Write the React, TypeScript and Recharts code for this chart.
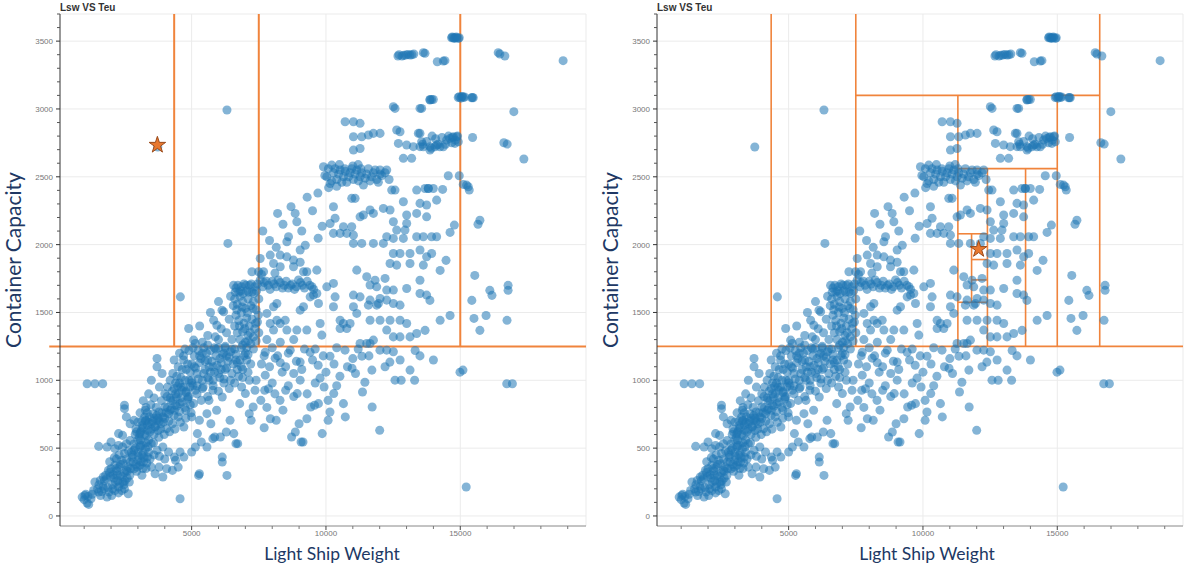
import React from 'react';
import {
  ScatterChart,
  Scatter,
  XAxis,
  YAxis,
  ZAxis,
  CartesianGrid,
  ReferenceLine,
  Symbols,
} from 'recharts';

type Pt = [number, number];
type Seg = [number, number, number, number];

// light ship weight (t) vs container capacity (teu)
const lowBand: Pt[] = [
  [925, 139], [1025, 151], [1110, 95], [1168, 85], [1253, 127], [1140, 144], [1000, 120], [1060, 160],
  [1350, 188], [1540, 176], [1610, 151], [1740, 200], [1850, 139], [1925, 176], [2025, 151], [2140, 188],
  [2280, 213], [2400, 188], [2500, 200], [2640, 164], [1300, 160], [1500, 200], [1700, 220],
  [1400, 250], [1600, 262], [1710, 287], [1825, 274], [1900, 336], [2000, 348], [2080, 306], [2140, 373],
  [2210, 331], [2310, 360], [2400, 410], [2455, 385], [2570, 336], [2640, 360], [2710, 397], [2785, 434],
  [2855, 348], [3000, 410], [3070, 373], [3140, 447], [3210, 397], [3355, 434], [3500, 360], [3640, 311],
  [3785, 360], [3930, 287], [4070, 348], [4285, 336], [4400, 410], [4500, 360], [4570, 127],
  [1800, 300], [1950, 320], [2100, 280], [2200, 350], [2350, 300], [2500, 320], [2600, 280], [2050, 230],
  [2250, 260], [2450, 250], [2700, 300], [2950, 330], [3150, 300], [3300, 350],
  [2200, 420], [2300, 450], [2500, 460], [2650, 480], [2800, 450], [2900, 500], [3000, 470], [3100, 520],
  [3200, 460], [3300, 540], [3400, 470], [3600, 450], [3800, 440], [4000, 420],
  [1540, 513], [1850, 508], [2000, 545], [2140, 496], [2280, 520], [2430, 508], [2570, 533], [2710, 557],
  [2855, 484], [3070, 508], [3280, 496], [3500, 533], [3715, 484], [3930, 508], [4140, 471], [4360, 434],
  [4570, 471], [4710, 434], [5000, 471], [5140, 508], [5360, 545], [5570, 508], [5790, 570],
  [5260, 299], [5290, 311], [6140, 397], [6140, 434], [6315, 299],
  [1550, 230], [1650, 180], [1750, 260], [1880, 210], [1980, 290], [2060, 200], [2160, 250], [2230, 300],
  [2330, 240], [2420, 290], [2520, 260], [2610, 330], [2730, 350], [2820, 400], [2920, 380], [3020, 440],
  [3120, 400], [3230, 430], [3330, 390], [3450, 420], [1950, 400], [2120, 430], [2350, 380], [2580, 420],
  [2760, 470], [2980, 360], [3180, 350], [2280, 170], [2480, 230], [2680, 250],
];

const coreBand: Pt[] = [
  [2280, 607], [2430, 594], [2500, 791], [2500, 816], [2570, 730], [2710, 680], [2855, 705], [2930, 643],
  [3000, 692], [3070, 607], [3170, 668], [3280, 705], [3355, 631], [3430, 730], [3500, 680], [3570, 754],
  [3640, 656], [3715, 705], [3785, 766], [3855, 680], [3930, 730], [4000, 803], [4070, 643], [4140, 754],
  [4215, 852], [4285, 680], [4360, 779], [4430, 877], [4500, 730], [4570, 828], [4640, 926], [4710, 656],
  [4785, 779], [4860, 877], [4930, 951], [5000, 730], [5070, 828], [5140, 926], [5215, 607], [5290, 705],
  [5360, 852], [5430, 951], [5570, 754], [5645, 852], [5715, 680], [5790, 926], [5860, 582], [5930, 779],
  [6070, 582], [6140, 877], [6290, 619], [6430, 705], [6570, 607], [6650, 533], [6715, 533], [6790, 828],
  [6860, 951], [7000, 902], [7145, 754], [7215, 705], [7290, 803], [7360, 926],
  [3100, 620], [3200, 650], [3300, 700], [3400, 690], [3150, 700], [3250, 730], [3350, 760], [3600, 720],
  [3700, 740], [3800, 700], [3900, 760], [4000, 720], [3500, 640], [3300, 590], [3000, 560], [2900, 600],
  [3100, 560], [3400, 560], [3600, 600], [3750, 630], [4100, 800], [4200, 780], [4300, 850], [4400, 820],
  [4500, 900], [4600, 870], [4700, 950], [4800, 910], [4900, 880], [5000, 980],
  [3200, 850], [3400, 900], [3600, 870], [3800, 950], [3500, 1000], [3900, 1050], [3300, 800],
  [2850, 530], [2950, 620], [3050, 580], [3150, 640], [3250, 600], [3350, 670], [3450, 620], [3550, 700],
  [3650, 660], [3750, 720], [3850, 640], [3950, 690], [4050, 760], [4150, 700], [4250, 790], [4350, 740],
  [4450, 810], [4550, 770], [4650, 840], [4750, 800], [4850, 860], [4950, 820], [3080, 760], [3280, 780],
  [3480, 820], [3680, 800], [3880, 850], [4080, 880], [4280, 920], [4480, 960], [3180, 520], [3380, 510],
  [3580, 540], [3780, 580], [3980, 600], [4180, 620], [4380, 640], [4580, 690], [4780, 720], [4980, 760],
];

const upperCore: Pt[] = [
  [4000, 900], [4100, 950], [4200, 1000], [4300, 1050], [4400, 980], [4500, 1100], [4600, 1020], [4700, 1150],
  [4800, 1080], [4900, 1000], [5000, 1120], [5100, 1180], [5200, 1050], [5300, 1130], [5400, 1200], [5500, 1080],
  [5600, 1150], [5700, 1220], [5800, 1100], [5900, 1180], [6000, 1240], [6100, 1130], [6200, 1200], [6300, 1090],
  [6400, 1170], [6600, 1230], [6800, 1150], [7000, 1200], [7200, 1120], [4200, 870], [4400, 900], [4600, 950],
  [4800, 920], [5000, 1000], [5200, 960], [5400, 1000], [5600, 1020], [5800, 1000], [6000, 1050], [6200, 1010],
  [6500, 1050], [6700, 1080], [6900, 1020], [7100, 1060], [7400, 1000], [3712, 1161], [3712, 1100], [4350, 1150],
  [4550, 1200], [4750, 1230], [5050, 1240], [5250, 1220], [5450, 1240], [5650, 1100], [5850, 1240], [6050, 1160],
  [6250, 1240], [6450, 1210], [6650, 1150], [6850, 1240], [7050, 1150], [7300, 1230],
  [4350, 940], [4450, 1030], [4550, 980], [4650, 1080], [4750, 1000], [4850, 1120], [4950, 1060], [5050, 960],
  [5150, 1090], [5250, 1010], [5350, 1160], [5450, 1050], [5550, 1200], [5650, 1000], [5750, 1140], [5850, 1060],
  [5950, 1110], [6050, 1020], [6150, 1190], [6250, 1080], [6350, 1140], [6450, 1000], [6550, 1120], [6650, 1190],
  [6750, 1030], [6850, 1100], [6950, 1180], [7050, 1240], [7150, 1000], [4700, 1180], [4900, 1220], [5100, 1100],
  [5300, 1180], [5500, 1140], [5700, 1060], [5900, 1230], [6100, 1080], [6300, 1180], [6500, 1230], [6700, 1130],
  [6900, 1080], [7100, 1190], [5200, 900], [5400, 940], [5600, 880], [5800, 960], [6000, 920], [6200, 980],
  [6400, 940], [6600, 980],
];

const lowerRight: Pt[] = [
  [7575, 852], [7720, 926], [7860, 938], [7930, 717], [8150, 705], [8290, 852], [8500, 926], [8720, 582],
  [8860, 619], [8930, 902], [9075, 545], [9145, 545], [9000, 680], [9290, 717], [9430, 803], [9575, 816],
  [9720, 828], [9860, 607], [10080, 852], [10150, 766], [10080, 705], [9930, 951], [10290, 902], [10650, 828],
  [10720, 730], [11360, 914], [11720, 803], [12000, 631], [12800, 1000], [13300, 1000],
  [7740, 1207], [8110, 1163], [8670, 1222], [9040, 1134], [9410, 1207], [9710, 1111], [10150, 1178], [10710, 1222],
  [10970, 1089], [11340, 1178], [11710, 1075], [12010, 1222], [12380, 1134], [7740, 1038], [8370, 1060], [9040, 1001],
  [9780, 1016], [10520, 1030], [11450, 986], [14990, 1060], [15100, 1075], [12760, 1150], [13130, 1075], [12570, 1001],
  [13320, 1220], [7600, 1120], [7900, 1100], [8200, 1180], [8500, 1100], [8800, 1050], [9200, 1230], [9500, 1150],
  [10000, 1060], [10300, 1120], [11000, 1160], [12262, 1222], [12509, 1210], [13500, 1180], [14000, 1150],
  [8000, 980], [8600, 960], [9300, 900], [7800, 800], [8400, 780],
  [7700, 1180], [8000, 1240], [8300, 1130], [8600, 1200], [8900, 1140], [9100, 1080], [9600, 1230], [9900, 1180],
  [10400, 1240], [10800, 1100], [11200, 1230], [11600, 1180], [12200, 1100], [8800, 880], [9600, 980], [10400, 960],
  [11100, 1050], [7700, 650], [8100, 900],
];

const midBlock: Pt[] = [
  [6560, 1700], [6650, 1680], [6750, 1650], [6850, 1690], [6950, 1710], [7050, 1660], [7150, 1700], [7250, 1650],
  [7350, 1690], [7450, 1710], [6600, 1600], [6700, 1560], [6800, 1620], [6900, 1580], [7000, 1530], [7100, 1600],
  [7200, 1550], [7300, 1580], [7400, 1520], [6650, 1480], [6750, 1440], [6850, 1500], [6950, 1420], [7050, 1460],
  [7150, 1400], [7250, 1450], [7350, 1380], [7450, 1430], [6700, 1350], [6800, 1300], [6900, 1360], [7000, 1280],
  [7100, 1330], [7200, 1270], [7300, 1320], [7400, 1290], [7500, 1350], [6600, 1400], [6550, 1550], [7500, 1600],
  [6450, 1620], [6500, 1300], [4890, 1382], [5075, 1296], [5137, 1271], [5820, 1443], [5940, 1406], [5880, 1320],
  [6190, 1505], [6130, 1517], [5400, 1280], [5600, 1330], [6000, 1300], [6100, 1380], [6300, 1350], [6400, 1450],
  [5300, 1400], [5700, 1500], [6000, 1580], [6250, 1250], [5600, 1260],
  [6620, 1650], [6720, 1700], [6820, 1660], [6920, 1640], [7020, 1700], [7120, 1650], [7220, 1710], [7320, 1640],
  [7420, 1660], [6680, 1520], [6880, 1540], [7080, 1500], [7280, 1530], [7480, 1480], [6780, 1400], [6980, 1380],
  [7180, 1350], [7380, 1420], [6900, 1260], [7100, 1290],
  [7244, 1800], [7491, 1800], [7677, 1800], [7553, 1898], [7925, 1923], [8297, 1923], [8545, 1910], [8792, 1886],
  [8049, 1861], [8297, 1837], [8792, 1837], [9164, 1800], [9288, 1800], [9660, 1812], [8545, 2021], [8607, 2058],
  [8916, 2169], [8854, 2230], [9040, 1960], [7553, 1740], [7700, 1720], [7850, 1700], [8000, 1730], [8150, 1690],
  [8300, 1720], [8450, 1700], [8600, 1680], [8750, 1710], [8900, 1690], [9050, 1720], [9200, 1680], [9400, 1700],
  [9540, 1670], [7650, 1690], [7780, 1730], [7920, 1670], [8070, 1710], [8220, 1740], [8380, 1680], [8520, 1730],
  [8680, 1700], [8830, 1670], [8980, 1740], [9120, 1700], [9300, 1730], [9480, 1690], [7600, 1780], [8100, 1790],
  [7650, 2100], [7900, 2030], [8150, 1980], [8400, 2150], [8700, 2280], [9100, 2100], [9500, 2250], [9300, 2350],
  [8200, 2230], [9700, 2380],
  [9412, 1615], [9536, 1628], [9164, 1542], [9040, 1517], [8173, 1566], [8049, 1542], [8173, 1443],
  [8297, 1419], [8483, 1443], [7801, 1493], [7925, 1419], [8049, 1370], [8545, 1370], [8916, 1370], [9288, 1370],
  [9660, 1640], [9722, 1566], [9784, 1419], [9846, 1333], [10031, 1689], [10279, 1714], [10341, 1615],
  [9230, 1995], [9710, 2047], [9860, 2135], [9040, 1870], [10340, 2194], [7800, 1300], [8300, 1280], [8800, 1300],
];

const upperBlock: Pt[] = [
  [10279, 2279], [10155, 2156], [10279, 2083], [10527, 2083], [10775, 2083], [11023, 2070], [10651, 2132], [10960, 2132],
  [11023, 2009], [11333, 2009], [9907, 2574], [10031, 2500], [10155, 2450], [10279, 2530], [10403, 2480], [10527, 2550],
  [10651, 2500], [10775, 2460], [10899, 2530], [11023, 2480], [11147, 2550], [11271, 2500], [11395, 2440], [11519, 2520],
  [11643, 2470], [11767, 2530], [11891, 2480], [12015, 2520], [10100, 2420], [10400, 2430], [10700, 2560], [11000, 2580],
  [11300, 2560], [12200, 2530], [12350, 2480], [10217, 2586],
  [9960, 2510], [10090, 2560], [10210, 2470], [10340, 2560], [10470, 2520], [10590, 2460], [10720, 2540], [10840, 2500],
  [10960, 2560], [11080, 2520], [11210, 2470], [11330, 2530], [11460, 2490], [11580, 2560], [11700, 2500], [11830, 2550],
  [11950, 2460], [12080, 2510], [10500, 2590], [11200, 2590],
  [10960, 2341], [11085, 2341], [11270, 2205], [11394, 2218],
  [11642, 2255], [11766, 2230], [10713, 2906], [11023, 2906], [11270, 2894], [11023, 2795], [11333, 2795], [11580, 2808],
  [11766, 2820], [12014, 2820], [11023, 2697], [11270, 2709], [12509, 3017], [12571, 3004], [13501, 3004], [13872, 3066],
  [12695, 2746], [13005, 2734], [13253, 2722], [13501, 2722], [13872, 2722], [14120, 2734], [12633, 2845], [12757, 2832],
  [13439, 2820], [12881, 2636], [13190, 2636], [12014, 2550], [12262, 2550], [12447, 2402], [12571, 2402], [13377, 2402],
  [13810, 2414], [13996, 2414], [12881, 2316], [13501, 2304], [13748, 2292], [14120, 2328], [12138, 2267], [12386, 2255],
  [13005, 2218], [13377, 2230], [13748, 2205], [12509, 2169], [13005, 2156], [12262, 2058], [12509, 2046], [12881, 2046],
  [13377, 2058], [13625, 2058], [13934, 2058], [14120, 2058], [12633, 2107], [12943, 2107], [11766, 2009], [12138, 2009],
  [13501, 1960], [13129, 1935], [12509, 1935], [12757, 1935], [13748, 1911], [13934, 1935], [12386, 1861], [12633, 1849],
  [13129, 1861], [13625, 1849], [11147, 1812], [11518, 1763], [11828, 1738], [12200, 1751], [11642, 1702], [11890, 1689],
  [12262, 1665], [12509, 1665], [13005, 1677], [13501, 1640], [13748, 1628], [11023, 1628], [11270, 1615], [11642, 1591],
  [12014, 1603], [11952, 1566], [12509, 1566], [12757, 1554], [11023, 1542], [11580, 1554], [11890, 1554], [12262, 1591],
  [10279, 1542], [10527, 1443], [10651, 1419], [10775, 1382], [10527, 1382], [10899, 1419], [11147, 1493], [11642, 1443],
  [12014, 1443], [12386, 1443], [12757, 1443], [13005, 1419], [13377, 1345], [12262, 1370], [12509, 1320], [12757, 1320],
  [13129, 1320], [11270, 1271], [11518, 1271], [11642, 1271], [11766, 1296], [12680, 3390], [12830, 3390], [12980, 3398],
  [13130, 3398], [13270, 3405], [12720, 3400], [12900, 3395], [13050, 3402], [13200, 3400],
];

const rightEdge: Pt[] = [
  [14677, 3525], [14739, 3525], [14801, 3525], [14863, 3525], [14962, 3525], [14700, 3530], [14780, 3520], [14850, 3530],
  [14930, 3520], [13624, 3415], [13686, 3410], [14144, 3348],
  [14367, 3353], [14429, 3356], [16412, 3415], [16474, 3405], [16659, 3390], [18828, 3356], [13872, 3070], [13934, 3070],
  [13996, 3070], [14925, 3085], [15049, 3090], [15111, 3085], [15420, 3083], [15482, 3083], [14960, 3090], [15020, 3080],
  [15080, 3092], [15160, 3088], [15450, 3085], [13562, 3004], [16994, 2980],
  [13500, 2820], [13562, 2758], [13624, 2721], [13872, 2697], [14058, 2721], [14243, 2721], [14367, 2721], [14491, 2771],
  [14615, 2783], [14739, 2795], [14863, 2795], [14925, 2758], [14801, 2746], [14677, 2751], [15458, 2790], [16622, 2751],
  [13600, 2740], [13750, 2760], [13920, 2710], [14080, 2780], [14180, 2740], [14320, 2790], [14450, 2740], [14560, 2800],
  [14700, 2790], [14820, 2770], [14900, 2800], [13950, 2800],
  [16746, 2741], [17367, 2631], [14553, 2508], [14962, 2508], [15111, 2444], [15235, 2439], [15297, 2427], [15334, 2402],
  [13686, 2414], [13810, 2414], [14343, 2407], [14780, 2144], [14620, 2090], [15730, 2180], [15660, 2150], [14470, 1884],
  [14250, 1810], [15540, 1773], [15430, 1589], [16100, 1663], [16180, 1626], [15960, 1478], [15510, 1456], [16780, 1663],
  [16780, 1700], [16740, 1442], [15730, 1368], [14620, 1478], [14250, 1442], [13870, 1589], [13690, 1368], [13500, 1737],
];

const outliers: Pt[] = [
  [1110, 975], [1400, 975], [1690, 975], [16730, 975], [16940, 975], [15220, 213], [4580, 1615], [6350, 2009],
  [6315, 2992], [3740, 2720],
];

const ships = [...lowBand, ...coreBand, ...upperCore, ...lowerRight, ...midBlock, ...upperBlock, ...rightEdge, ...outliers].map(
  ([lsw, teu]) => ({ lsw, teu })
);

const lswDomain: [number, number] = [100, 19680];
const teuDomain: [number, number] = [-74, 3700];
const lswTicks = [1000, 2000, 3000, 4000, 5000, 6000, 7000, 8000, 9000, 10000, 11000, 12000, 13000, 14000, 15000, 16000, 17000, 18000, 19000];
const teuTicks = [
  0, 100, 200, 300, 400, 500, 600, 700, 800, 900, 1000, 1100, 1200, 1300, 1400, 1500, 1600, 1700, 1800, 1900,
  2000, 2100, 2200, 2300, 2400, 2500, 2600, 2700, 2800, 2900, 3000, 3100, 3200, 3300, 3400, 3500, 3600, 3700,
];
const gridLsw = [5000, 10000, 15000, 19680];
const gridTeu = [0, 500, 1000, 1500, 2000, 2500, 3000, 3500, 3700];

// split lines: [lsw1, teu1, lsw2, teu2]
const leftSplits: Seg[] = [
  [-300, 1250, 19680, 1250],
  [4350, 1250, 4350, 3700],
  [7500, 1250, 7500, 3700],
  [15000, 1250, 15000, 3700],
];
const rightSplits: Seg[] = [
  [100, 1250, 19680, 1250],
  [4350, 1250, 4350, 3700],
  [7500, 1250, 7500, 3700],
  [16580, 1250, 16580, 3700],
  [7500, 3100, 16580, 3100],
  [11300, 1250, 11300, 3100],
  [15000, 1250, 15000, 3100],
  [11300, 2560, 15000, 2560],
  [12400, 1250, 12400, 2560],
  [13820, 1250, 13820, 2560],
  [11300, 2080, 12400, 2080],
  [11300, 1575, 12400, 1575],
  [11810, 1575, 11810, 2080],
  [11810, 1890, 12400, 1890],
  [11810, 1740, 12400, 1740],
];
const leftStar = { lsw: 3725, teu: 2734 };
const rightStar = { lsw: 12072, teu: 1966 };

const renderXTick = (props: any) => {
  const { x, y, payload } = props;
  if (payload.value % 5000 !== 0) return <line x1={x} y1={y} x2={x} y2={y + 3} stroke="#777" />;
  return (
    <g>
      <line x1={x} y1={y} x2={x} y2={y + 4} stroke="#444" />
      <text x={x} y={y + 10} textAnchor="middle" fontSize={8} fill="#777" fontFamily="Liberation Sans, sans-serif">
        {payload.value}
      </text>
    </g>
  );
};

const renderYTick = (props: any) => {
  const { x, y, payload } = props;
  if (payload.value % 500 !== 0) return <line x1={x} y1={y} x2={x - 3} y2={y} stroke="#555" />;
  return (
    <g>
      <line x1={x} y1={y} x2={x - 4} y2={y} stroke="#333" />
      <text x={x - 7} y={y + 3} textAnchor="end" fontSize={8} fill="#777" fontFamily="Liberation Sans, sans-serif">
        {payload.value}
      </text>
    </g>
  );
};

const renderStar = (props: any) => (
  <Symbols cx={props.cx} cy={props.cy} type="star" size={85} fill="#e8782f" stroke="#9a4b1c" strokeWidth={1} />
);

function Panel({ splits, star, lineWidth }: { splits: Seg[]; star: { lsw: number; teu: number }; lineWidth: number }) {
  return (
    <ScatterChart width={600} height={569} margin={{ top: 14, right: 14, bottom: 13, left: 0 }}>
      <CartesianGrid stroke="#ebebeb" horizontalValues={gridTeu} verticalValues={gridLsw} />
      <XAxis
        type="number"
        dataKey="lsw"
        domain={lswDomain}
        allowDataOverflow
        ticks={lswTicks}
        interval={0}
        tick={renderXTick}
        tickLine={false}
        tickSize={0}
        tickMargin={0}
        height={30}
        stroke="#888"
      />
      <YAxis
        type="number"
        dataKey="teu"
        domain={teuDomain}
        allowDataOverflow
        ticks={teuTicks}
        interval={0}
        tick={renderYTick}
        tickLine={false}
        tickSize={0}
        tickMargin={0}
        width={60}
        stroke="#333"
      />
      <ZAxis range={[45, 45]} />
      <Scatter data={ships} fill="#1f77b4" fillOpacity={0.55} stroke="none" isAnimationActive={false} />
      {splits.map((s, i) => (
        <ReferenceLine
          key={i}
          segment={[{ x: s[0], y: s[1] }, { x: s[2], y: s[3] }]}
          stroke="#f0843c"
          strokeWidth={lineWidth}
          ifOverflow="visible"
        />
      ))}
      <Scatter data={[star]} shape={renderStar} isAnimationActive={false} />
    </ScatterChart>
  );
}

const yTitle = { fontFamily: 'Lato, sans-serif', fontSize: 21, fill: '#203864' };
const xTitle = { fontFamily: 'Lato, sans-serif', fontSize: 17.5, fill: '#203864' };
const chartTitle = { fontFamily: 'Liberation Sans, sans-serif', fontSize: 10, fontWeight: 700, fill: '#333' };

export default function App() {
  return (
    <div style={{ position: 'absolute', left: 0, top: 0, width: 1184, height: 569, background: '#fff', overflow: 'hidden' }}>
      <div style={{ position: 'absolute', left: 0, top: 0 }}>
        <Panel splits={leftSplits} star={leftStar} lineWidth={2} />
      </div>
      <div style={{ position: 'absolute', left: 597, top: 0 }}>
        <Panel splits={rightSplits} star={rightStar} lineWidth={1.6} />
      </div>
      <svg width={1184} height={569} style={{ position: 'absolute', left: 0, top: 0, pointerEvents: 'none' }}>
        <text x={60} y={11} {...chartTitle}>Lsw VS Teu</text>
        <text x={657} y={11} {...chartTitle}>Lsw VS Teu</text>
        <text transform="translate(21,260) rotate(-90)" textAnchor="middle" {...yTitle}>Container Capacity</text>
        <text transform="translate(618,260) rotate(-90)" textAnchor="middle" {...yTitle}>Container Capacity</text>
        <text x={332} y={560} textAnchor="middle" {...xTitle}>Light Ship Weight</text>
        <text x={927} y={560} textAnchor="middle" {...xTitle}>Light Ship Weight</text>
      </svg>
    </div>
  );
}
